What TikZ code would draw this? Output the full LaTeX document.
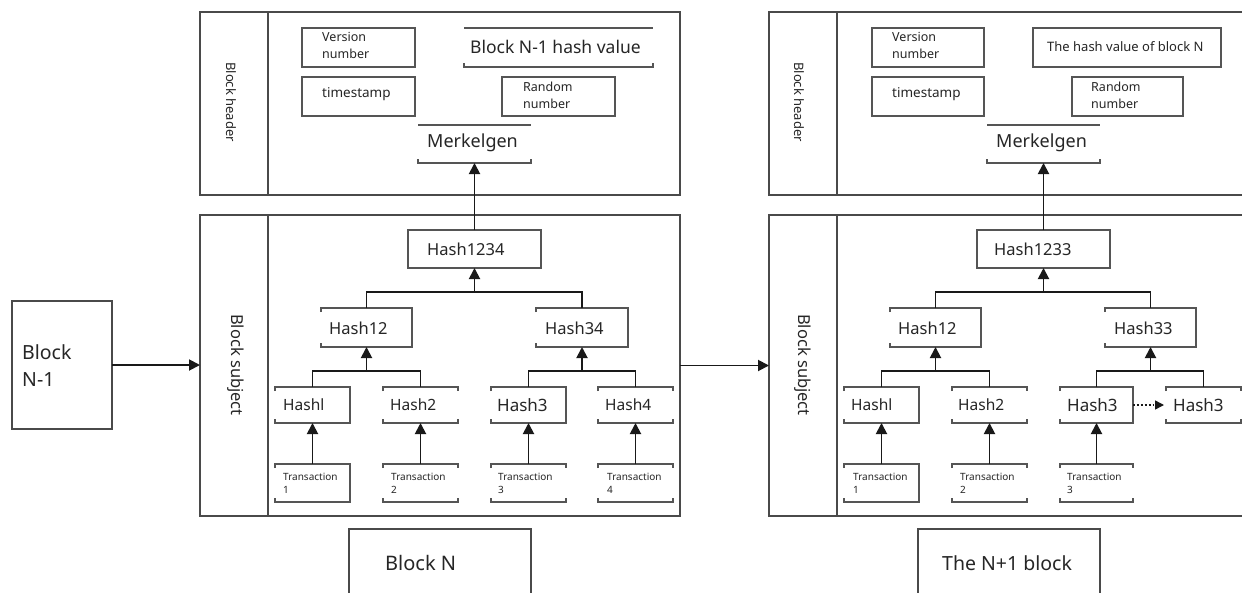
\documentclass[tikz,border=0pt]{standalone}
\usepackage{fontspec}
\setmainfont{Noto Sans}
\usetikzlibrary{arrows.meta}
\definecolor{lc}{HTML}{4A4A4A}
\definecolor{ic}{HTML}{555555}
\definecolor{tc}{HTML}{262626}
\newcommand\bx[6][fbox]{\node[#1,minimum width={#5pt-#3pt},minimum height={#6pt-#4pt}] (#2) at (#3,#4) {};}
\newcommand\opA[1]{\draw[ib] (#1.north west) -- (#1.north east);
  \draw[ib] ([yshift=4pt]#1.south west) -- (#1.south west) -- (#1.south east) -- ([yshift=4pt]#1.south east);}
\newcommand\opB[1]{\draw[ib] ([yshift=-4pt]#1.north west) -- (#1.north west) -- (#1.north east) -- (#1.south east) -- (#1.south west) -- ([yshift=4pt]#1.south west);}
\newcommand\opC[1]{\draw[ib] ([yshift=-4pt]#1.north west) -- (#1.north west) -- (#1.north east) -- ([yshift=-4pt]#1.north east);
  \draw[ib] ([yshift=4pt]#1.south west) -- (#1.south west) -- (#1.south east) -- ([yshift=4pt]#1.south east);}
\begin{document}
\begin{tikzpicture}[x=1pt,y=-1pt,
  outer/.style={draw=lc,line width=1.7pt,inner sep=0,outer sep=0,anchor=north west},
  fbox/.style={draw=ic,line width=1.3pt,inner sep=0,outer sep=0,anchor=north west},
  obox/.style={inner sep=0,outer sep=0,anchor=north west},
  ib/.style={draw=ic,line width=1.3pt},
  txt/.style={text=tc,inner sep=0,anchor=west,align=left},
  small/.style={txt,font=\fontsize{12.5}{17}\selectfont},
  hs/.style={txt,font=\fontsize{16.5}{20}\selectfont},
  tr/.style={txt,font=\fontsize{10}{13}\selectfont},
  big/.style={txt,font=\fontsize{19.5}{27}\selectfont},
  conn/.style={draw=black!90,line width=1.9pt},
  arr/.style={conn,-{Triangle[length=11pt,width=11pt]}},
]
\clip (0,0) rectangle (1242,592);
\fill[white] (0,0) rectangle (1242,592);

% ---------- Block N-1 ----------
\bx[outer]{B0}{12}{301}{112}{429}
\node[big,fill=white,inner sep=1pt] (tB0) at (21,365.5) {Block\\N-1};

% ---------- Block N ----------
\bx[outer]{LH}{200}{12}{680}{195}
\bx[outer]{LHc}{200}{12}{268}{195}
\bx[outer]{LS}{200}{215}{680}{516}
\bx[outer]{LSc}{200}{215}{268}{516}
\node[text=tc,font=\fontsize{13}{15}\selectfont,rotate=-90,inner sep=0] (tLH) at (231,102) {Block header};
\node[text=tc,font=\fontsize{16.5}{18}\selectfont,rotate=-90,inner sep=0] (tLS) at (236,365) {Block subject};

\bx{ver1}{302}{28}{415}{67}
\node[small] (tver1) at (322,45.5) {Version\\number};
\bx{ts1}{302}{77}{415}{116}
\node[txt,font=\fontsize{13.5}{16}\selectfont] (tts1) at (322,94) {timestamp};
\bx[obox]{prev1}{464}{28}{653}{67}\opA{prev1}
\node[txt,font=\fontsize{17.5}{20}\selectfont] (tprev1) at (470,47) {Block N-1 hash value};
\bx{rnd1}{502}{77}{615}{116}
\node[small] (trnd1) at (523,95.5) {Random\\number};
\bx[obox]{mk1}{418}{125}{531}{163}\opA{mk1}
\node[txt,font=\fontsize{18}{20}\selectfont] (tmk1) at (427,143) {Merkelgen};

\bx{h1234}{408}{230}{541}{268}
\node[hs] (th1234) at (427,249) {Hash1234};
\bx[obox]{h12a}{321}{308}{412}{347}\opB{h12a}
\node[hs] (th12a) at (329,328) {Hash12};
\bx[obox]{h34}{536}{308}{628}{347}\opB{h34}
\node[hs] (th34) at (545,328) {Hash34};

\bx[obox]{a1}{275}{387}{350}{423}\opB{a1}
\bx[obox]{a2}{383}{387}{458}{423}\opC{a2}
\bx[obox]{a3}{491}{387}{566}{423}\opB{a3}
\bx[obox]{a4}{598}{387}{673}{423}\opC{a4}
\node[txt,font=\fontsize{15.5}{18}\selectfont] (ta1) at (283,405) {Hashl};
\node[txt,font=\fontsize{15.5}{18}\selectfont] (ta2) at (390,405) {Hash2};
\node[txt,font=\fontsize{17}{18}\selectfont] (ta3) at (497,405) {Hash3};
\node[txt,font=\fontsize{15.5}{18}\selectfont] (ta4) at (605,405) {Hash4};

\bx[obox]{x1}{275}{464}{350}{502}\opB{x1}
\bx[obox]{x2}{383}{464}{458}{502}\opC{x2}
\bx[obox]{x3}{491}{464}{566}{502}\opC{x3}
\bx[obox]{x4}{598}{464}{673}{502}\opC{x4}
\node[tr] (tx1) at (283,483) {Transaction\\1};
\node[tr] (tx2) at (391,483) {Transaction\\2};
\node[tr] (tx3) at (498,483) {Transaction\\3};
\node[tr] (tx4) at (607,483) {Transaction\\4};

\bx[outer]{labN}{349}{529}{531}{610}
\node[txt,font=\fontsize{20}{22}\selectfont] (tlabN) at (385,563) {Block N};

% tree of block N
\draw[arr] (h1234.north) -- (mk1.south);
\coordinate (j1) at (474.5,292);
\draw[conn] (h12a.north) |- (j1) -| (h34.north);
\draw[arr] (j1) -- (h1234.south);
\coordinate (j2) at (366.5,371);
\draw[conn] (a1.north) |- (j2) -| (a2.north);
\draw[arr] (j2) -- (h12a.south);
\coordinate (j3) at (582,371);
\draw[conn] (a3.north) |- (j3) -| (a4.north);
\draw[arr] (j3) -- (h34.south);
\foreach \i in {1,2,3,4}{\draw[arr] (x\i.north) -- (a\i.south);}

% ---------- Block N+1 ----------
\bx[outer]{RH}{769}{12}{1260}{195}
\bx[outer]{RHc}{769}{12}{837}{195}
\bx[outer]{RS}{769}{215}{1260}{516}
\bx[outer]{RSc}{769}{215}{837}{516}
\node[text=tc,font=\fontsize{13}{15}\selectfont,rotate=-90,inner sep=0] (tRH) at (799,102) {Block header};
\node[text=tc,font=\fontsize{16.5}{18}\selectfont,rotate=-90,inner sep=0] (tRS) at (803,365) {Block subject};

\bx{ver2}{872}{28}{984}{67}
\node[small] (tver2) at (892,45.5) {Version\\number};
\bx{ts2}{872}{77}{984}{116}
\node[txt,font=\fontsize{13.5}{16}\selectfont] (tts2) at (892,94) {timestamp};
\bx{hn}{1033}{28}{1221}{67}
\node[txt,font=\fontsize{13}{16}\selectfont] (thn) at (1047,47) {The hash value of block N};
\bx{rnd2}{1072}{77}{1183}{116}
\node[small] (trnd2) at (1091,95.5) {Random\\number};
\bx[obox]{mk2}{987}{125}{1100}{163}\opA{mk2}
\node[txt,font=\fontsize{18}{20}\selectfont] (tmk2) at (996,143) {Merkelgen};

\bx{h1233}{977}{230}{1110}{268}
\node[hs] (th1233) at (994,249) {Hash1233};
\bx[obox]{h12b}{890}{308}{981}{347}\opB{h12b}
\node[hs] (th12b) at (898,328) {Hash12};
\bx[obox]{h33}{1105}{308}{1196}{347}\opB{h33}
\node[hs] (th33) at (1114,328) {Hash33};

\bx[obox]{b1}{844}{387}{919}{423}\opB{b1}
\bx[obox]{b2}{952}{387}{1027}{423}\opC{b2}
\bx[obox]{b3}{1060}{387}{1133}{423}\opB{b3}
\bx[obox]{b4}{1166}{387}{1241}{423}\opC{b4}
\node[txt,font=\fontsize{15.5}{18}\selectfont] (tb1) at (851,405) {Hashl};
\node[txt,font=\fontsize{15.5}{18}\selectfont] (tb2) at (958,405) {Hash2};
\node[txt,font=\fontsize{17}{18}\selectfont] (tb3) at (1067,405) {Hash3};
\node[txt,font=\fontsize{17}{18}\selectfont] (tb4) at (1173,405) {Hash3};

\bx[obox]{y1}{844}{464}{919}{502}\opB{y1}
\bx[obox]{y2}{952}{464}{1027}{502}\opC{y2}
\bx[obox]{y3}{1060}{464}{1133}{502}\opC{y3}
\node[tr] (ty1) at (853,483) {Transaction\\1};
\node[tr] (ty2) at (960,483) {Transaction\\2};
\node[tr] (ty3) at (1067,483) {Transaction\\3};

\bx[outer]{labN1}{918}{529}{1100}{610}
\node[txt,font=\fontsize{19.5}{22}\selectfont] (tlabN1) at (942,563) {The N+1 block};

% tree of block N+1
\draw[arr] (h1233.north) -- (mk2.south);
\coordinate (k1) at (1043.5,292);
\draw[conn] (h12b.north) |- (k1) -| (h33.north);
\draw[arr] (k1) -- (h1233.south);
\coordinate (k2) at (935.5,371);
\draw[conn] (b1.north) |- (k2) -| (b2.north);
\draw[arr] (k2) -- (h12b.south);
\coordinate (k3) at (1150.5,371);
\draw[conn] (b3.north) |- (k3) -| (b4.north);
\draw[arr] (k3) -- (h33.south);
\foreach \i in {1,2,3}{\draw[arr] (y\i.north) -- (b\i.south);}
\draw[conn,dotted,line width=1.4pt,-{Triangle[length=9pt,width=9pt]}] (b3.east) -- ([xshift=-2pt]b4.west);

% ---------- block links ----------
\draw[arr] (B0.east) -- (B0.east -| LS.west);
\draw[arr] (LS.east) -- (RS.west);
\end{tikzpicture}
\end{document}
